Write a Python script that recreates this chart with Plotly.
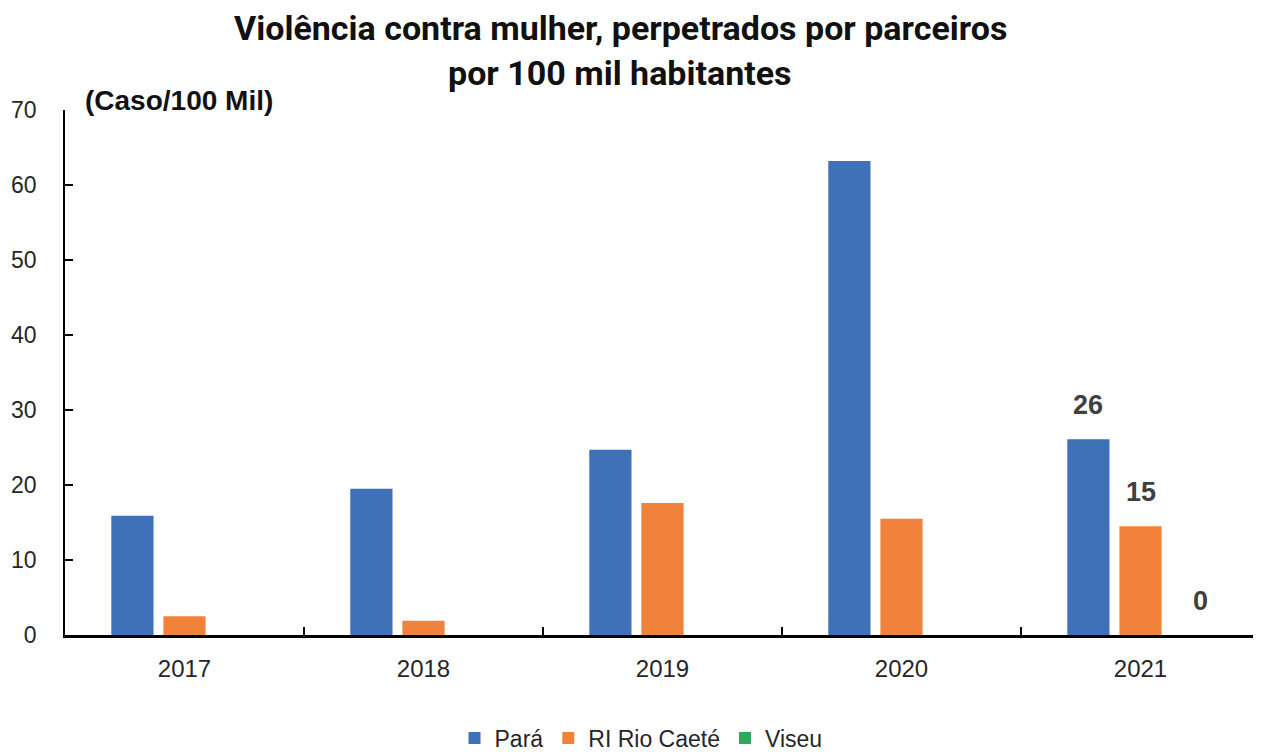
import plotly.graph_objects as go

# ---------------------------------------------------------------------------
# Data
# ---------------------------------------------------------------------------

years = ["2017", "2018", "2019", "2020", "2021"]
para = [15.9, 19.5, 24.7, 63.2, 26.1]
ri_rio_caete = [2.5, 1.9, 17.6, 15.5, 14.5]
viseu = [0, 0, 0, 0, 0]

# data labels are only shown for the last year
label_year = "2021"
para_label = "26"
ri_label = "15"
viseu_label = "0"

FONT = "Liberation Sans, Arial, sans-serif"
TITLE_FONT = "Roboto, Liberation Sans, Arial, sans-serif"

# figure is 8px smaller than the window (page body margin)
W, H = 1255, 747
ML, MR, MT, MB = 57, 3, 102, 120
PW, PH = W - ML - MR, H - MT - MB


def px_x(x):
    return (x - ML) / PW


def px_y(y):
    return (H - MB - y) / PH


fig = go.Figure()
series = [
    ("Pará", para, para_label, "#3F71B8", 0),
    ("RI Rio Caeté", ri_rio_caete, ri_label, "#F0823B", 0),
    ("Viseu", viseu, viseu_label, "#2BAA5A", 8),
]
slot = PW / len(years) * (1 - 0.346) / len(series)
for i, (name, vals, label, color, nudge) in enumerate(series):
    fig.add_trace(go.Bar(
        name=name, x=years, y=vals,
        marker_color=color, marker_line_width=0,
    ))
    fig.add_annotation(
        x=years.index(label_year), y=vals[years.index(label_year)],
        xshift=(i - 1) * slot + nudge, yshift=17,
        text=f"<b>{label}</b>", showarrow=False, yanchor="bottom",
        font=dict(family=FONT, size=27, color="#404040"),
    )

fig.update_layout(
    width=W, height=H,
    paper_bgcolor="white", plot_bgcolor="white",
    barmode="group", bargap=0.346, bargroupgap=0.19,
    margin=dict(l=ML, r=MR, t=MT, b=MB, autoexpand=False),
    font=dict(family=FONT, color="#262626", size=20),
    legend=dict(
        orientation="h", x=px_x(633), xanchor="center",
        y=px_y(730), yanchor="middle",
        font=dict(family=FONT, size=23, color="#262626"),
        traceorder="normal", itemwidth=30,
    ),
    showlegend=True,
)

fig.update_xaxes(
    type="category", tickangle=0,
    showline=True, linecolor="black", linewidth=2.5,
    ticks="inside", ticklen=8, tickwidth=2, tickcolor="black",
    tickson="boundaries", showgrid=False, ticklabelstandoff=10,
    tickfont=dict(family=FONT, size=24, color="#262626"),
)
fig.update_yaxes(
    range=[0, 70], dtick=10,
    showline=True, linecolor="black", linewidth=1.5,
    ticks="inside", ticklen=8, tickwidth=1.5, tickcolor="black",
    showgrid=False, zeroline=False, ticklabelstandoff=22,
    tickfont=dict(family=FONT, size=23, color="#262626"),
)

title_lines = [
    ("Violência contra mulher, perpetrados por parceiros", 20),
    ("por 100 mil habitantes", 65),
]
for text, y in title_lines:
    fig.add_annotation(
        text=f"<b>{text}</b>", xref="paper", yref="paper",
        x=px_x(612), y=px_y(y), xanchor="center", yanchor="middle",
        showarrow=False,
        font=dict(family=TITLE_FONT, size=34, color="#111111"),
    )

fig.add_annotation(
    text="<b>(Caso/100 Mil)</b>", xref="paper", yref="paper",
    x=px_x(75), y=px_y(92), xanchor="left", yanchor="middle",
    showarrow=False,
    font=dict(family=FONT, size=28, color="#111111"),
)

fig.write_html("out.html")
